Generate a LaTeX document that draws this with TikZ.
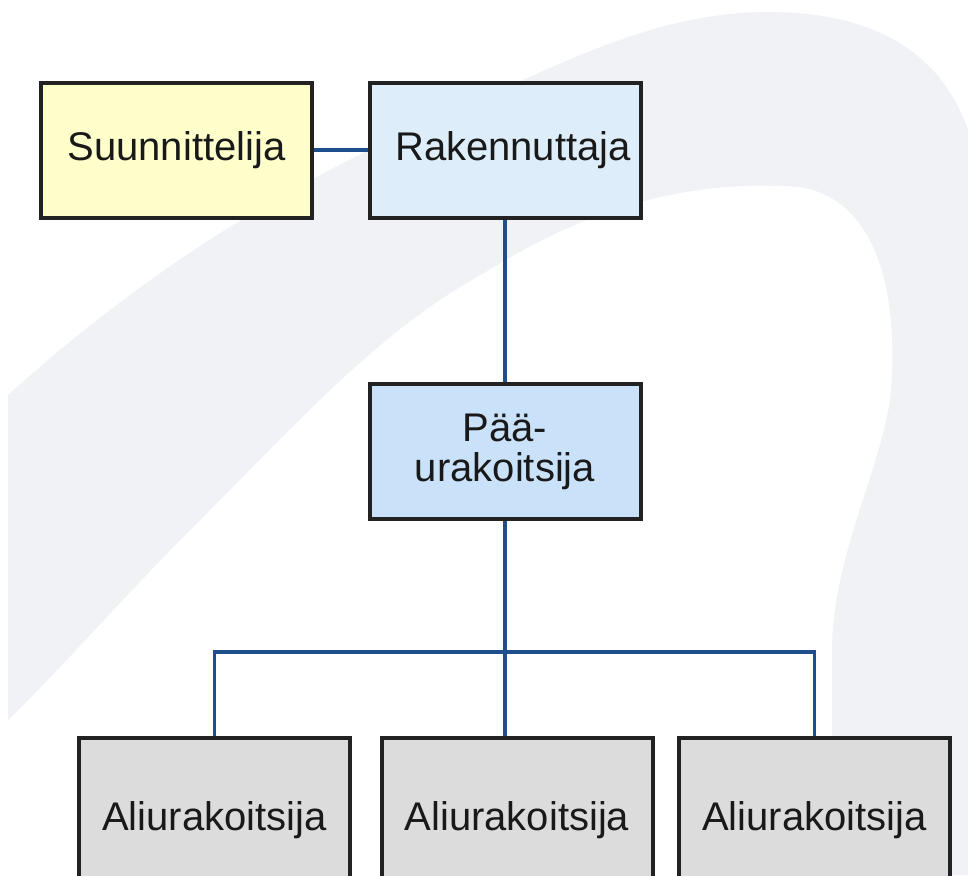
\documentclass[tikz,border=0pt]{standalone}
\usepackage{fontspec}
\setmainfont{Liberation Sans}
\usetikzlibrary{shadows}
\definecolor{bandc}{HTML}{F0F2F6}
\definecolor{yelc}{HTML}{FFFFCC}
\definecolor{rakc}{HTML}{DDEDFA}
\definecolor{puac}{HTML}{C9E2FA}
\definecolor{alic}{HTML}{DCDCDC}
\definecolor{linec}{HTML}{1F4E8C}
\definecolor{borderc}{HTML}{222222}
\tikzset{
  box/.style={draw=borderc, line width=2pt, minimum width=135.5pt, minimum height=67.5pt,
    inner sep=0pt, align=center, font=\fontsize{20}{20}\selectfont, text=black!90,
    drop shadow={shadow xshift=0.6pt, shadow yshift=-0.6pt, opacity=0.35, fill=gray}},
  conn/.style={draw=linec, line width=1.6pt}
}
\begin{document}
\begin{tikzpicture}[x=0.5pt, y=-0.5pt]
\useasboundingbox (0,0) rectangle (968,875);
\clip (0,0) rectangle (968,875);
\fill[white] (0,0) rectangle (968,875);
% background swoosh
\fill[bandc] (8,720) -- (8,395)
  .. controls (80,330) and (160,270) .. (230,227)
  .. controls (330,165) and (420,125) .. (500,90)
  .. controls (580,55) and (660,15) .. (760,12)
  .. controls (870,10) and (940,50) .. (968,130)
  -- (968,875) -- (832,875) -- (832,650)
  .. controls (832,560) and (880,470) .. (890,400)
  .. controls (900,300) and (880,200) .. (800,187)
  .. controls (700,180) and (600,200) .. (484,273)
  .. controls (380,330) and (300,420) .. (200,520)
  .. controls (120,600) and (60,670) .. (8,720) -- cycle;
% nodes
\node[box, fill=yelc] (sun) at (176.5,150) {Suunnittelija};
\node[box, fill=rakc] (rak) at (505,150) {\hspace*{8pt}Rakennuttaja};
\node[box, fill=puac] (pua) at (505,451.5) {Pää-\\urakoitsija};
\node[box, fill=alic, minimum height=82pt] (ali1) at (214.5,820) {Aliurakoitsija};
\node[box, fill=alic, minimum height=82pt] (ali2) at (517,820) {Aliurakoitsija};
\node[box, fill=alic, minimum height=82pt] (ali3) at (814.5,820) {Aliurakoitsija};
\coordinate (bus) at (506,652);
% connectors
\draw[conn] (sun.east) -- (rak.west);
\draw[conn] (rak.south) -- (pua.north);
\draw[conn] (pua.south) -- (pua.south |- ali2.north);
\draw[conn] (ali1.north) -- (ali1.north |- bus) -- (ali3.north |- bus) -- (ali3.north);
\end{tikzpicture}
\end{document}
